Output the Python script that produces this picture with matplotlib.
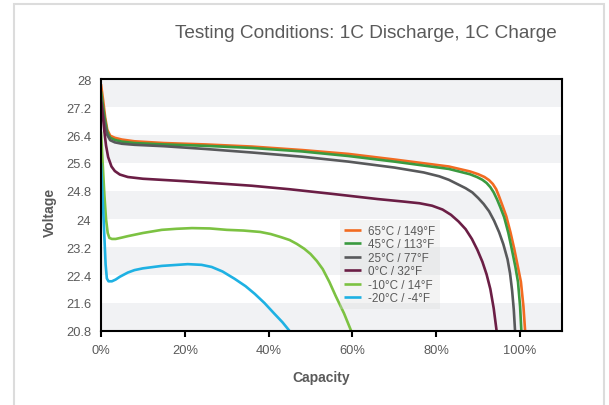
import matplotlib.pyplot as plt
from matplotlib.patches import Rectangle

plt.rcParams['font.family'] = ['Liberation Sans', 'DejaVu Sans']

# capacity (%) and voltage, one pair of lists per temperature
cap_65 = [0, 0.5, 1.0, 1.5, 2.2, 3.3, 5, 8, 15, 25, 36, 48, 59, 70, 83, 88, 90, 91.5, 92.6, 93.5, 94.3, 95.0, 95.8, 96.7, 97.7, 98.6, 99.5, 100.2, 100.8, 101.2]
volt_65 = [27.85, 27.4, 26.9, 26.55, 26.38, 26.32, 26.27, 26.22, 26.17, 26.13, 26.07, 25.97, 25.86, 25.7, 25.5, 25.36, 25.28, 25.2, 25.11, 25.0, 24.85, 24.64, 24.38, 24.08, 23.62, 23.15, 22.62, 22.2, 21.5, 20.8]

cap_45 = [0, 0.5, 1.0, 1.5, 2.2, 3.3, 5, 8, 15, 25, 36, 48, 59, 70, 83, 88, 89.7, 91, 92, 92.9, 93.7, 94.5, 95.3, 96.2, 97.2, 98.0, 98.9, 99.5, 100.0, 100.3]
volt_45 = [27.65, 27.2, 26.8, 26.48, 26.32, 26.26, 26.21, 26.17, 26.13, 26.09, 26.03, 25.93, 25.8, 25.64, 25.43, 25.28, 25.2, 25.12, 25.03, 24.91, 24.76, 24.56, 24.33, 24.05, 23.6, 23.15, 22.62, 22.2, 21.5, 20.8]

cap_25 = [0, 0.5, 1.0, 1.5, 2.2, 3.3, 5, 8, 15, 25, 36, 48, 59, 70, 77, 80.7, 83, 85, 87, 88.6, 90, 91.3, 92.6, 93.8, 95, 96, 97, 97.6, 98.1, 98.5, 98.8]
volt_25 = [27.5, 27.0, 26.65, 26.4, 26.25, 26.19, 26.15, 26.12, 26.08, 26.0, 25.9, 25.78, 25.64, 25.47, 25.33, 25.22, 25.12, 25.0, 24.88, 24.76, 24.6, 24.43, 24.22, 23.95, 23.62, 23.28, 22.85, 22.45, 21.95, 21.4, 20.8]

cap_0 = [0, 0.4, 0.8, 1.2, 1.7, 2.5, 3.3, 4.5, 6.4, 10, 20, 30, 36, 45, 55, 66, 72, 76, 79, 81.5, 83.5, 85.3, 87, 88.5, 89.8, 91, 92, 92.9, 93.7, 94.4]
volt_0 = [27.35, 27.0, 26.5, 26.1, 25.77, 25.5, 25.37, 25.27, 25.2, 25.15, 25.08, 25.0, 24.95, 24.85, 24.72, 24.57, 24.5, 24.45, 24.38, 24.27, 24.12, 23.93, 23.71, 23.43, 23.12, 22.78, 22.42, 22.0, 21.45, 20.8]

cap_m10 = [0, 0.4, 0.8, 1.2, 1.6, 2.0, 2.6, 3.5, 5, 6.4, 10, 14.5, 18, 21.7, 26, 30, 34, 38, 40.5, 43, 45, 46.7, 48.5, 50, 51.5, 52.9, 54.5, 56, 58, 59.7]
volt_m10 = [26.5, 25.6, 24.7, 24.0, 23.6, 23.46, 23.43, 23.43, 23.47, 23.51, 23.6, 23.69, 23.72, 23.74, 23.73, 23.69, 23.67, 23.63, 23.57, 23.48, 23.4, 23.29, 23.15, 23.0, 22.8, 22.57, 22.2, 21.8, 21.3, 20.8]

cap_m20 = [0, 0.4, 0.8, 1.1, 1.4, 1.8, 2.6, 3.5, 4.5, 6.4, 8, 10, 14.5, 20.7, 24, 26.4, 29, 31.9, 34.5, 36.7, 39, 41.4, 43.3, 45]
volt_m20 = [25.6, 24.6, 23.5, 22.7, 22.3, 22.22, 22.22, 22.27, 22.35, 22.47, 22.54, 22.59, 22.66, 22.71, 22.69, 22.63, 22.5, 22.29, 22.08, 21.86, 21.6, 21.29, 21.05, 20.8]

labels = ['65°C / 149°F', '45°C / 113°F', '25°C / 77°F', '0°C / 32°F', '-10°C / 14°F', '-20°C / -4°F']
colors = ['#f26b21', '#3a9a3f', '#58595b', '#6b1e45', '#7cc242', '#1eb1e3']

xticks = [0, 20, 40, 60, 80, 100]
xtick_labels = ['0%', '20%', '40%', '60%', '80%', '100%']
yticks = [20.8, 21.6, 22.4, 23.2, 24, 24.8, 25.6, 26.4, 27.2, 28]
ytick_labels = ['20.8', '21.6', '22.4', '23.2', '24', '24.8', '25.6', '26.4', '27.2', '28']

txt = '#5a5a5a'

fig = plt.figure(figsize=(6.09, 4.06), dpi=100)
ax = fig.add_axes([101/609, 1 - 332/406, 461/609, 252/406])

# alternating grey bands
for i in range(0, len(yticks) - 1, 2):
    ax.axhspan(yticks[i], yticks[i + 1], color='#f1f2f4', lw=0, zorder=0)

series = [(cap_65, volt_65), (cap_45, volt_45), (cap_25, volt_25),
          (cap_0, volt_0), (cap_m10, volt_m10), (cap_m20, volt_m20)]
for (c, v), lab, col in zip(series, labels, colors):
    ax.plot(c, v, color=col, lw=1.9, label=lab, zorder=2, solid_capstyle='butt',
            solid_joinstyle='round')

ax.set_xlim(0, 110)
ax.set_ylim(20.8, 28)
ax.set_xticks(xticks)
ax.set_xticklabels(xtick_labels)
ax.set_yticks(yticks)
ax.set_yticklabels(ytick_labels)
ax.tick_params(axis='x', length=4.5, width=1.5, color='black', pad=5, labelsize=9.3, labelcolor=txt)
ax.tick_params(axis='y', length=0, pad=7, labelsize=9.3, labelcolor=txt)
for s in ax.spines.values():
    s.set_linewidth(1.5)
    s.set_color('black')

leg = ax.legend(loc='upper left', bbox_to_anchor=(0.518, 0.44), borderaxespad=0,
                fontsize=8.4, frameon=True, fancybox=False, handlelength=1.4,
                handletextpad=0.6, labelspacing=0.13, borderpad=0.4)
leg.get_frame().set_facecolor('#d8d8d8')
leg.get_frame().set_alpha(0.3)
leg.get_frame().set_linewidth(0)
for t in leg.get_texts():
    t.set_color(txt)

fig.text(557/609, 1 - 33/406, 'Testing Conditions: 1C Discharge, 1C Charge',
         ha='right', va='center', fontsize=13.7, color=txt)
fig.text(50/609, 1 - 212/406, 'Voltage', rotation=90, ha='center', va='center',
         fontsize=10, fontweight='bold', color=txt)
fig.text(321/609, 1 - 378/406, 'Capacity', ha='center', va='center',
         fontsize=10, fontweight='bold', color=txt)

# light frame around the panel
fig.add_artist(Rectangle((14/609, -0.1), 590/609, 1.1 - 5/406, transform=fig.transFigure,
                         fill=False, edgecolor='#dcdcdc', lw=1.5))

fig.savefig('out.png', dpi=100)
